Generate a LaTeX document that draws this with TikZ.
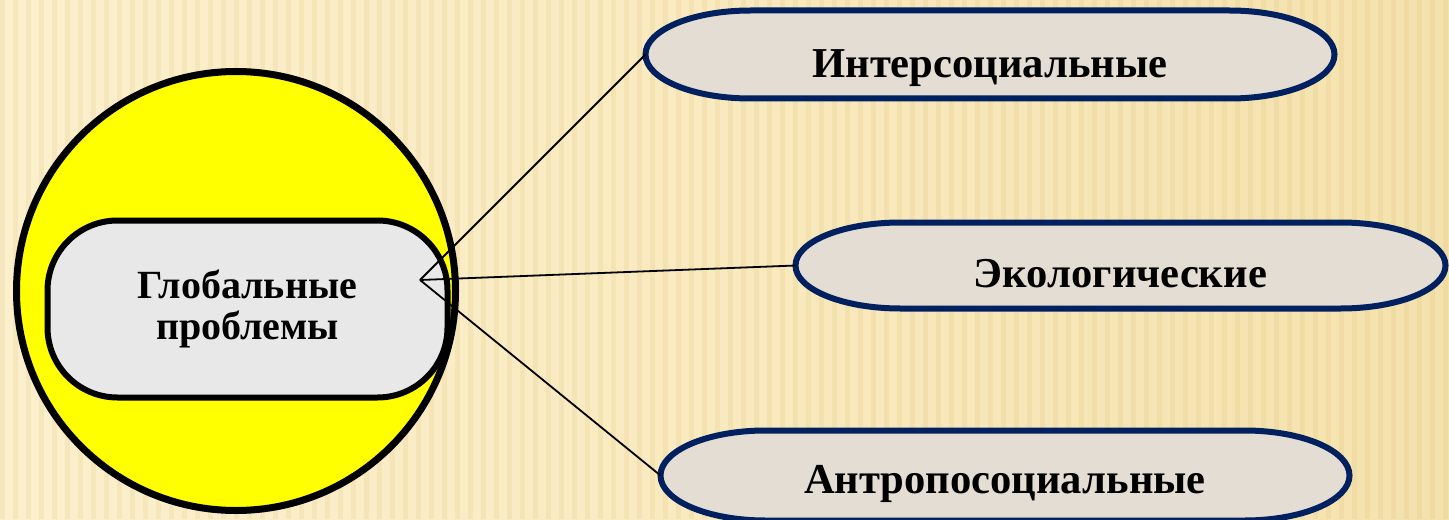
\documentclass[tikz,border=0pt]{standalone}
\usepackage{fontspec}
\setmainfont{Liberation Serif}
\usetikzlibrary{backgrounds}
\definecolor{bgA}{HTML}{FDF4DA}
\definecolor{bgB}{HTML}{FAEBC2}
\definecolor{bgC}{HTML}{EFDA9C}
\definecolor{navy}{HTML}{002060}
\definecolor{pillfill}{HTML}{E3DDD3}
\definecolor{boxfill}{HTML}{E8E8E8}
\definecolor{sunyellow}{HTML}{FFFF00}
\definecolor{stripecol}{HTML}{C8A040}
\pgfdeclarehorizontalshading{bgshade}{100bp}{color(0bp)=(bgA); color(45bp)=(bgB); color(100bp)=(bgC)}
% #1 node name, #2 half width, #3 half height, #4 cap x radius (all in px units)
\newcommand\pillshape[4]{%
  \path[pillborder] ([shift={({-#2+#4},{-#3})}]#1.center) -- ([shift={({#2-#4},{-#3})}]#1.center)
    arc[start angle=-90,end angle=90,x radius=#4,y radius=#3]
    -- ([shift={({-#2+#4},{#3})}]#1.center)
    arc[start angle=90,end angle=270,x radius=#4,y radius=#3] -- cycle;}
\begin{document}
\begin{tikzpicture}[x=0.5pt,y=-0.5pt,
  pillborder/.style={draw=navy, line width=3pt, fill=pillfill},
  pilltext/.style={inner sep=0pt, outer sep=0pt, font=\bfseries\fontsize{21.3pt}{25pt}\selectfont, text depth=0pt},
  conn/.style={draw=black, line width=0.9pt},
  stripe/.style={fill=stripecol, opacity=0.1}]
\useasboundingbox (0,0) rectangle (1449,519);
\begin{scope}[on background layer]
  \fill[shading=bgshade] (0,0) rectangle (1449,519);
  \foreach \s in {0,13,...,1449} \fill[stripe] (\s,0) rectangle (\s+5,519);
\end{scope}
% central circle and box
\node[circle, draw=black, line width=3.5pt, fill=sunyellow, minimum size=219.5pt, inner sep=0pt] (circ) at (236,291) {};
\node[rectangle, rounded corners=35pt, draw=black, line width=3pt, fill=boxfill,
      minimum width=200pt, minimum height=88.5pt, inner sep=0pt, align=center,
      font=\bfseries\fontsize{20pt}{20.5pt}\selectfont] (glob) at (247.5,309) {Глобальные\\проблемы};
\coordinate (hub) at (420,280);
% category nodes
\node[pilltext, minimum width=344.5pt, minimum height=44pt, text height=22.5pt] (inter) at (990,54.5) {Интерсоциальные};
\node[pilltext, minimum width=325pt, minimum height=43pt, text height=21.5pt] (eco) at (1120.5,265.5) {Экологические};
\node[pilltext, minimum width=344.5pt, minimum height=45pt, text height=17.5pt] (anthro) at (1005,475.5) {Антропосоциальные};
\begin{scope}[on background layer]
  \pillshape{inter}{344.5}{44}{105}
  \pillshape{eco}{325}{43}{105}
  \pillshape{anthro}{344.5}{45}{105}
\end{scope}
% connectors
\draw[conn] (hub) -- (inter.west);
\draw[conn] (hub) -- (eco.west);
\draw[conn] (hub) -- (anthro.west);
\end{tikzpicture}
\end{document}
